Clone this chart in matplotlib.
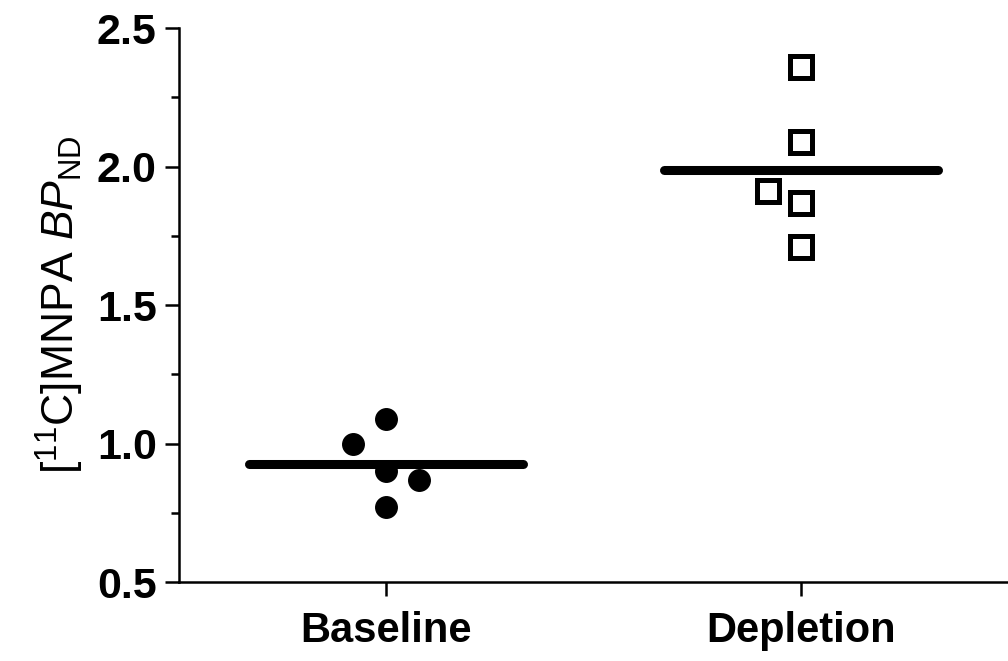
#散点图:基线 vs 耗竭,横线为均值
from matplotlib import pyplot as plt
import numpy as np

plt.rcParams['font.family'] = ['Liberation Sans', 'DejaVu Sans']
plt.rcParams['mathtext.fontset'] = 'custom'
plt.rcParams['mathtext.rm'] = 'Liberation Sans'
plt.rcParams['mathtext.it'] = 'Liberation Sans:italic'

#数据
groups = ["Baseline", "Depletion"]
baseline_y = [1.09, 1.00, 0.90, 0.87, 0.77]
baseline_dx = [0.0, -0.08, 0.0, 0.08, 0.0]
depletion_y = [2.36, 2.09, 1.91, 1.87, 1.71]
depletion_dx = [0.0, 0.0, -0.08, 0.0, 0.0]

fig = plt.figure(figsize=(10.08, 6.61), dpi=100)
ax = fig.add_axes([0.1776, 0.1195, 0.8224, 0.838])

#描点
ax.plot(np.array(baseline_dx) + 0, baseline_y, 'o', color='black',
        markersize=15.5, markeredgewidth=1, linestyle='none', clip_on=False)
ax.plot(np.array(depletion_dx) + 1, depletion_y, 's', markerfacecolor='white',
        markeredgecolor='black', markersize=16.5, markeredgewidth=3.6,
        linestyle='none', clip_on=False)

#均值线
for i, vals in enumerate([baseline_y, depletion_y]):
    m = np.mean(vals)
    ax.plot([i - 0.33, i + 0.33], [m, m], color='black', linewidth=6.5,
            solid_capstyle='round', zorder=1)

ax.set_xlim(-0.5, 1.5)
ax.set_ylim(0.5, 2.5)
ax.set_xticks([0, 1])
ax.set_xticklabels(groups, fontsize=30, fontweight='bold')
ax.set_yticks([0.5, 1.0, 1.5, 2.0, 2.5])
ax.set_yticklabels(["0.5", "1.0", "1.5", "2.0", "2.5"], fontsize=31, fontweight='bold')
ax.set_yticks([0.75, 1.25, 1.75, 2.25], minor=True)

ax.spines['top'].set_visible(False)
ax.spines['right'].set_visible(False)
ax.spines['left'].set_linewidth(1.8)
ax.spines['bottom'].set_linewidth(1.8)
ax.tick_params(axis='both', which='major', length=10, width=1.8, pad=6)
ax.tick_params(axis='y', which='minor', length=6, width=1.8)
ax.tick_params(axis='x', pad=11)

ax.set_ylabel(r'[$^{11}$C]MNPA $\mathit{BP}_{\mathrm{ND}}$', fontsize=32, labelpad=8)

#保存
plt.savefig("out.png", dpi=100)
